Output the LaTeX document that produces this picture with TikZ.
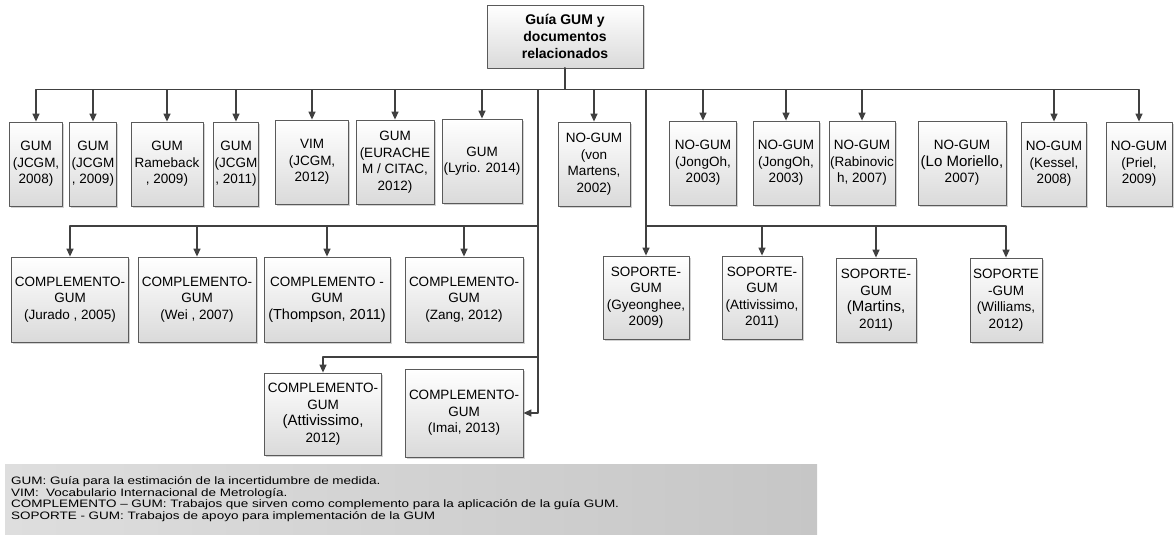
\documentclass[tikz,border=0pt]{standalone}
\usepackage{fontspec}
\setmainfont{Liberation Sans}
\newfontfamily\legendfont{Liberation Sans}[FakeStretch=1.25]
\usetikzlibrary{arrows.meta}
\usetikzlibrary{shadows}
\definecolor{linegray}{HTML}{404040}
\definecolor{boxedge}{HTML}{5A5A5A}
\definecolor{boxshade}{HTML}{DADADA}
\definecolor{noteleft}{HTML}{DEDEDE}
\definecolor{noteright}{HTML}{C6C6C6}

\begin{document}
\begin{tikzpicture}[line cap=round,line join=round,x=1pt,y=-1pt,
  >={Triangle[width=7pt,length=8pt]},
  doc/.style={draw=boxedge,line width=0.8pt,top color=white,bottom color=boxshade,
    drop shadow={shadow xshift=1.5pt,shadow yshift=-1.5pt,fill=black!35},
    align=center,inner sep=1pt,font=\fontsize{13.5}{16.5}\selectfont},
  rowone/.style={doc,minimum height=84},
  rowtwo/.style={doc,minimum height=85},
  link/.style={->,draw=linegray,line width=1.3pt},
  trunk/.style={draw=linegray,line width=1.3pt}]
\useasboundingbox (0,0) rectangle (1175,535);
% root
\node[doc,font=\bfseries\fontsize{14}{16.7}\selectfont,minimum width=156,minimum height=63] (root) at (565,36.5) {Gu\'ia GUM y\\documentos\\relacionados};
% first row
\node[rowone,minimum width=53] (gumA) at (36,164) {GUM\\(JCGM,\\2008)};
\node[rowone,minimum width=47] (gumB) at (93,164) {GUM\\(JCGM\\, 2009)};
\node[rowone,minimum width=72] (gumC) at (167,164) {GUM\\Rameback\\, 2009)};
\node[rowone,minimum width=44] (gumD) at (236,164) {GUM\\(JCGM\\, 2011)};
\node[rowone,minimum width=73] (vim) at (312,162) {VIM\\(JCGM,\\2012)};
\node[rowone,minimum width=78] (eurachem) at (395,162) {GUM\\(EURACHE\\M / CITAC,\\2012)};
\node[rowone,minimum width=80] (lyrio) at (482,161) {GUM\\(Lyrio. 2014)};
\node[rowone,minimum width=72] (martens) at (594,164) {NO-GUM\\(von\\Martens,\\2002)};
\node[rowone,minimum width=67] (jongA) at (703,163) {NO-GUM\\(JongOh,\\2003)};
\node[rowone,minimum width=66] (jongB) at (786,163) {NO-GUM\\(JongOh,\\2003)};
\node[rowone,minimum width=66] (rabin) at (862,163) {NO-GUM\\(Rabinovic\\h, 2007)};
\node[rowone,minimum width=88] (moriello) at (962,163) {NO-GUM\\{\fontsize{15}{17}\selectfont(Lo Moriello,}\\2007)};
\node[rowone,minimum width=65] (kessel) at (1054,164) {NO-GUM\\(Kessel,\\2008)};
\node[rowone,minimum width=66] (priel) at (1139,164) {NO-GUM\\(Priel,\\2009)};
% complemento rows
\node[rowtwo,minimum width=117] (jurado) at (70,299.5) {COMPLEMENTO-\\GUM\\(Jurado , 2005)};
\node[rowtwo,minimum width=118] (wei) at (197,299.5) {COMPLEMENTO-\\GUM\\(Wei , 2007)};
\node[rowtwo,minimum width=126] (thompson) at (327,299.5) {COMPLEMENTO -\\GUM\\{\fontsize{14.5}{17}\selectfont(Thompson, 2011)}};
\node[rowtwo,minimum width=118] (zang) at (464,299.5) {COMPLEMENTO-\\GUM\\(Zang, 2012)};
\node[doc,minimum width=117,minimum height=82] (attivA) at (323,414) {COMPLEMENTO-\\GUM\\{\fontsize{15}{17}\selectfont(Attivissimo,}\\2012)};
\node[doc,minimum width=118,minimum height=88] (imai) at (464,413) {COMPLEMENTO-\\GUM\\(Imai, 2013)};
% soporte row
\node[doc,minimum width=86,minimum height=83] (gyeong) at (646,297.5) {SOPORTE-\\GUM\\(Gyeonghee,\\2009)};
\node[doc,minimum width=80,minimum height=83] (attivB) at (762,297.5) {SOPORTE-\\GUM\\(Attivissimo,\\2011)};
\node[doc,minimum width=80,minimum height=84] (martins) at (876,300) {SOPORTE-\\GUM\\{\fontsize{15}{17}\selectfont(Martins,}\\2011)};
\node[doc,minimum width=72,minimum height=84] (williams) at (1006,300) {SOPORTE\\-GUM\\(Williams,\\2012)};
% notes
\node[anchor=north west,left color=noteleft,right color=noteright,minimum height=70,text width=800,inner xsep=6pt,align=left,font=\legendfont\fontsize{10.8}{11.8}\selectfont] (notes) at (5,464) {GUM: Gu\'ia para la estimaci\'on de la incertidumbre de medida.\\VIM:\ \ Vocabulario Internacional de Metrolog\'ia.\\COMPLEMENTO – GUM: Trabajos que sirven como complemento para la aplicaci\'on de la gu\'ia GUM.\\SOPORTE - GUM: Trabajos de apoyo para implementaci\'on de la GUM};
% connectors
\foreach \n in {gumA,gumB,gumC,gumD,vim,eurachem,lyrio,martens,jongA,jongB,rabin,kessel,priel}
  \draw[link] (root.south) -- ++(0,21) -| (\n.north);
\coordinate (compA) at (538,226);
\coordinate (compB) at (538,357);
\coordinate (supA) at (646,226);
\draw[trunk] (root.south) -- ++(0,21) -| (compA);
\draw[trunk] (root.south) -- ++(0,21) -| (supA);
\foreach \n in {jurado,wei,thompson,zang}
  \draw[link] (compA) -| (\n.north);
\draw[link] (compA) -- (compB) -| (attivA.north);
\draw[link] (compB) |- (imai.east);
\foreach \n in {gyeong,attivB,martins,williams}
  \draw[link] (supA) -| (\n.north);
\end{tikzpicture}
\end{document}
